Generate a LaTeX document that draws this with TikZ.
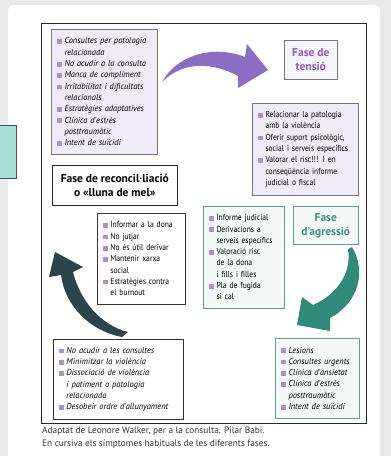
\documentclass[tikz,border=0pt]{standalone}
\usepackage{fontspec}
\setmainfont{PT Sans}
\newfontfamily\uplist[FakeStretch=0.87]{PT Sans}
\newfontfamily\itlist[FakeStretch=0.97]{PT Sans}
\usetikzlibrary{positioning}
\definecolor{pagegray}{HTML}{E9E9E9}
\definecolor{lilacfill}{HTML}{EFEBF6}
\definecolor{lilacedge}{HTML}{77737F}
\definecolor{bulletlilac}{HTML}{A992CC}
\definecolor{tensionpurple}{HTML}{8A5CB8}
\definecolor{arrowpurple}{HTML}{8C6DC6}
\definecolor{agrteal}{HTML}{3A9480}
\definecolor{tealedge}{HTML}{5E9F90}
\definecolor{tealfill}{HTML}{F4F8F7}
\definecolor{arrowteal}{HTML}{2F8A78}
\definecolor{arrowdark}{HTML}{2B4646}
\definecolor{sideteal}{HTML}{A8DED6}
\definecolor{captiongray}{HTML}{333333}
\newcommand{\blt}{\textcolor{bulletlilac}{\rule{4.6pt}{4.6pt}}\hspace{2.6pt}}
\newcommand{\ind}{\hspace*{7.2pt}}
\tikzset{
  listbox/.style={draw=lilacedge, line width=0.6pt, anchor=north west, align=left,
    inner xsep=6pt, inner ysep=0pt, font=\uplist\fontsize{8.7}{11.3}\selectfont},
  symlist/.style={font=\itlist\itshape\fontsize{8.7}{11.3}\selectfont},
  titlebox/.style={draw=lilacedge, line width=0.6pt, anchor=north west, align=center,
    inner sep=0pt, font=\fontsize{11.5}{14}\selectfont\bfseries},
  tealbox/.style={listbox, draw=tealedge, fill=tealfill},
  whitebox/.style={listbox, draw=black!80, fill=white}
}
\begin{document}
\begin{tikzpicture}[x=1pt,y=-1pt]
\useasboundingbox (0,0) rectangle (391,456);
\fill[pagegray] (0,0) rectangle (391,456);
\fill[white, rounded corners=6pt] (8,5) rectangle (380,470);
\node[draw=black!70, fill=sideteal, anchor=north west, minimum width=19pt, minimum height=53pt, inner sep=0pt] (side) at (-3,125) {};
\node[draw=black!85, line width=0.8pt, anchor=north west, minimum width=325pt, minimum height=400pt, inner sep=0pt] (frame) at (41,23) {};

% fase de tensio
\node[listbox, symlist, fill=lilacfill, text width=94pt, minimum height=125pt] (symTension) at (51,29) {%
\blt Consultes per patologia\\ \ind relacionada\\
\blt No acudir a la consulta\\
\blt Manca de compliment\\
\blt Irritabilitat i dificultats\\ \ind relacionals\\
\blt Estratègies adaptatives\\
\blt Clínica d'estrès\\ \ind posttraumàtic\\
\blt Intent de suïcidi};
\node[titlebox, fill=lilacfill!50, text=tensionpurple, minimum width=53pt, minimum height=39pt] (tensionTitle) at (284,40) {Fase de\\ tensió};
\node[listbox, fill=lilacfill, text width=94pt, minimum height=92pt] (actTension) at (252,103) {%
\blt Relacionar la patologia\\ \ind amb la violència\\
\blt Oferir suport psicològic,\\ \ind social i serveis específics\\
\blt Valorar el risc!!! I en\\ \ind conseqüència informe\\ \ind judicial o fiscal};

% fase d'agressio
\node[titlebox, draw=tealedge, fill=tealfill, text=agrteal, minimum width=65pt, minimum height=38pt] (agrTitle) at (293,206) {Fase\\ d’agressió};
\node[tealbox, text width=69pt, minimum height=102pt] (actAgr) at (203,206) {%
\blt Informe judicial\\
\blt Derivacions a\\ \ind serveis específics\\
\blt Valoració risc\\ \ind de la dona\\ \ind i fills i filles\\
\blt Pla de fugida\\ \ind si cal};
\node[tealbox, symlist, text width=72pt, minimum height=80pt] (symAgr) at (275,338) {%
\blt Lesions\\
\blt Consultes urgents\\
\blt Clínica d'ansietat\\
\blt Clínica d'estrès\\ \ind posttraumàtic\\
\blt Intent de suïcidi};

% fase de reconcil-liacio
\node[titlebox, draw=black!85, fill=white, minimum width=125pt, minimum height=40pt] (honeyTitle) at (52,165) {Fase de reconcil·liació\\ o «lluna de mel»};
\node[whitebox, text width=76pt, minimum height=91pt] (actHoney) at (97,213) {%
\blt Informar a la dona\\
\blt No jutjar\\
\blt No és útil derivar\\
\blt Mantenir xarxa\\ \ind social\\
\blt Estratègies contra\\ \ind el burnout};
\node[whitebox, symlist, text width=118pt, minimum height=80pt] (symHoney) at (53,339) {%
\blt No acudir a les consultes\\
\blt Minimitzar la violència\\
\blt Dissociació de violència\\ \ind i patiment o patologia\\ \ind relacionada\\
\blt Desobeir ordre d'allunyament};

% fletxes del cicle
\fill[arrowpurple] (162,82) .. controls (176,56) and (212,44) .. (245,57) -- (247,44) -- (268,70) -- (238,88) -- (238,76) .. controls (214,63) and (184,60) .. (162,82) -- cycle;
\fill[arrowteal] (352,247) .. controls (366,270) and (360,302) .. (330,318) -- (330,331) -- (297,325) -- (302,297) -- (313,305) .. controls (336,295) and (352,274) .. (348,249) -- cycle;
\fill[arrowdark] (55,252) -- (83,267) -- (73,272) .. controls (80,300) and (100,325) .. (128,332) -- (122,337) .. controls (90,331) and (65,306) .. (61,275) -- (49,277) -- cycle;

\node[anchor=north west, align=left, inner sep=0pt, text=captiongray, font=\fontsize{9.3}{12.8}\selectfont] (caption) at (42,427) {Adaptat de Leonore Walker, per a la consulta. Pilar Babi.\\ En cursiva els símptomes habituals de les diferents fases.};
\end{tikzpicture}
\end{document}
